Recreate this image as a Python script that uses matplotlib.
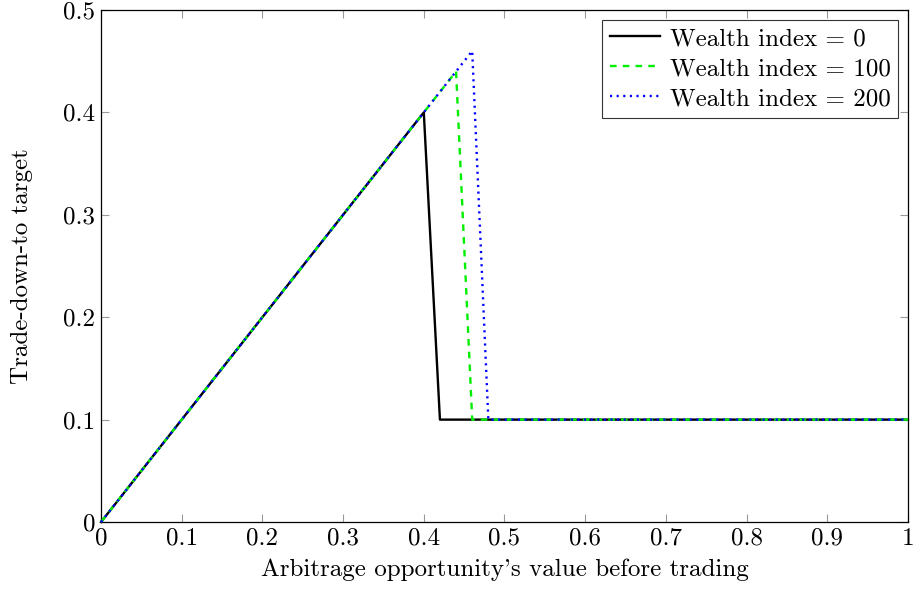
import matplotlib
matplotlib.use("Agg")
import matplotlib.pyplot as plt

# Trade-down policy for three wealth levels
value_w0 = [0, 0.4, 0.42, 1]
trade_w0 = [0, 0.4, 0.1, 0.1]

value_w100 = [0, 0.44, 0.46, 1]
trade_w100 = [0, 0.44, 0.1, 0.1]

value_w200 = [0, 0.46, 0.48, 1]
trade_w200 = [0, 0.46, 0.1, 0.1]

xticks = [0, 0.1, 0.2, 0.3, 0.4, 0.5, 0.6, 0.7, 0.8, 0.9, 1]
xtick_labels = ["0", "0.1", "0.2", "0.3", "0.4", "0.5", "0.6", "0.7", "0.8", "0.9", "1"]
yticks = [0, 0.1, 0.2, 0.3, 0.4, 0.5]
ytick_labels = ["0", "0.1", "0.2", "0.3", "0.4", "0.5"]


def main():
    plt.rcParams["font.family"] = "serif"
    plt.rcParams["font.serif"] = ["cmr10"]
    plt.rcParams["mathtext.fontset"] = "cm"
    plt.rcParams["axes.unicode_minus"] = False

    fig = plt.figure(figsize=(9.15, 5.92), dpi=100)
    ax = fig.add_axes([0.1104, 0.1182, 0.8819, 0.8649])

    ax.plot(value_w0, trade_w0, color="black", lw=1.7, ls="-",
            label="Wealth index = 0", clip_on=False, zorder=3)
    ax.plot(value_w100, trade_w100, color="#00ee00", lw=1.7, ls=(0, (2.8, 2.6)),
            label="Wealth index = 100", clip_on=False, zorder=4)
    ax.plot(value_w200, trade_w200, color="#0000ff", lw=1.7, ls=(0, (0.9, 1.9)),
            label="Wealth index = 200", clip_on=False, zorder=5)

    ax.set_xlim(0, 1)
    ax.set_ylim(0, 0.5)
    ax.set_xticks(xticks)
    ax.set_xticklabels(xtick_labels)
    ax.set_yticks(yticks)
    ax.set_yticklabels(ytick_labels)
    ax.tick_params(direction="in", length=6, width=0.8, color="#999999",
                   top=True, right=True, labelsize=18, pad=4)
    for s in ax.spines.values():
        s.set_linewidth(0.9)
        s.set_color("black")

    ax.set_xlabel("Arbitrage opportunity's value before trading", fontsize=18, labelpad=6)
    ax.set_ylabel("Trade-down-to target", fontsize=18, labelpad=22)

    leg = ax.legend(loc="upper right", fontsize=18, frameon=True, fancybox=False,
                    edgecolor="black", handlelength=2.0, handletextpad=0.4,
                    borderpad=0.3, labelspacing=0.3, borderaxespad=0.4)
    leg.get_frame().set_linewidth(0.8)

    fig.savefig("out.png", dpi=100)


if __name__ == "__main__":
    main()
